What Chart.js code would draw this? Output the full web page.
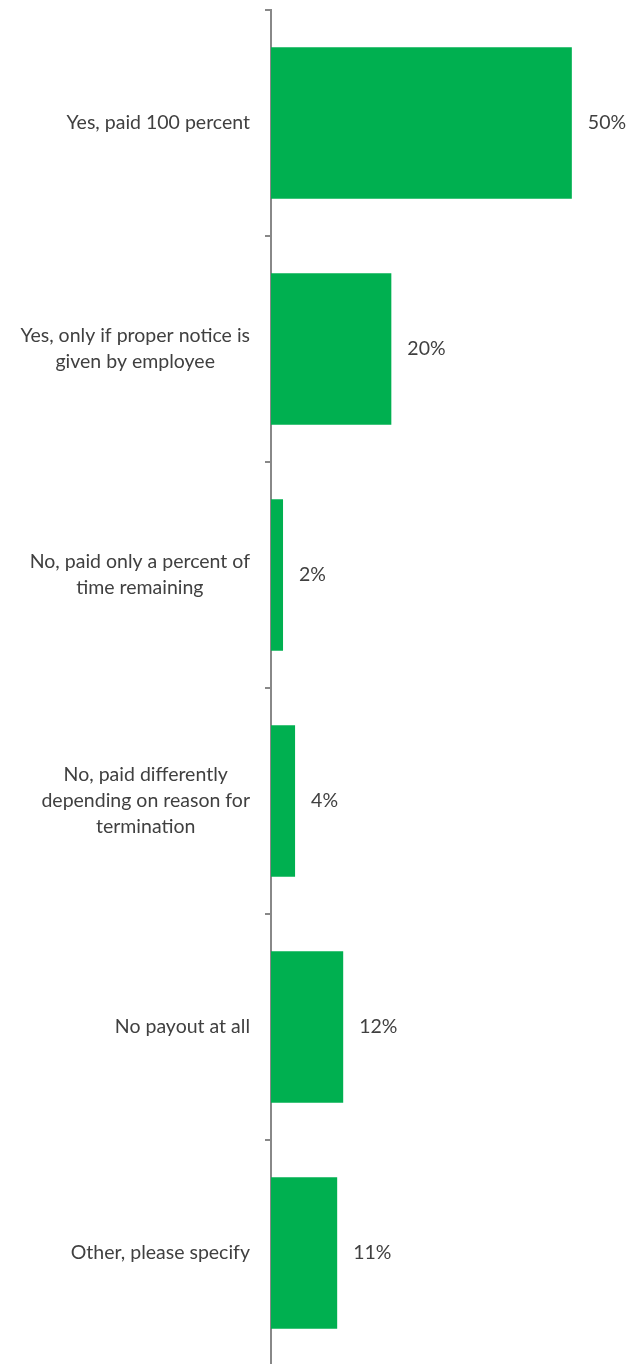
<!DOCTYPE html>
<html>
<head>
<meta charset="utf-8">
<script src="https://cdn.jsdelivr.net/npm/chart.js@4"></script>
<style>
  html, body { margin: 0; padding: 0; background: #ffffff; overflow: hidden; }
  #wrap { width: 639px; height: 1366px; position: relative; }
</style>
</head>
<body>
<div id="wrap"><canvas id="chart"></canvas></div>
<script>
// Survey answers (one entry per line of the label) and their shares in percent
const categories = [
  ["Yes, paid 100 percent"],
  ["Yes, only if proper notice is", "given by employee"],
  ["No, paid only a percent of", "time remaining"],
  ["No, paid differently", "depending on reason for", "termination"],
  ["No payout at all"],
  ["Other, please specify"]
];
const shares = [50, 20, 2, 4, 12, 11];

const FONT = "Lato, 'Open Sans', sans-serif";
const TEXT = "#404040";
const LINE_H = 26;
const FONT_PX = 19.5;

// Category names, centred line by line, right-aligned as a block next to the axis
const categoryLabels = {
  id: "categoryLabels",
  afterDraw(chart) {
    const ctx = chart.ctx;
    const y = chart.scales.y;
    const right = y.right - 21;
    ctx.save();
    ctx.font = FONT_PX + "px " + FONT;
    ctx.fillStyle = TEXT;
    ctx.textAlign = "center";
    ctx.textBaseline = "middle";
    chart.data.labels.forEach((lines, i) => {
      const cy = y.getPixelForValue(i);
      const w = Math.max(...lines.map(l => ctx.measureText(l).width));
      const cx = right - w / 2;
      const top = cy - (lines.length - 1) * LINE_H / 2;
      lines.forEach((l, k) => ctx.fillText(l, cx, top + k * LINE_H));
    });
    ctx.restore();
  }
};

// Percent value printed just past the end of each bar
const valueLabels = {
  id: "valueLabels",
  afterDatasetsDraw(chart) {
    const ctx = chart.ctx;
    const meta = chart.getDatasetMeta(0);
    ctx.save();
    ctx.font = FONT_PX + "px " + FONT;
    ctx.fillStyle = TEXT;
    ctx.textAlign = "left";
    ctx.textBaseline = "middle";
    meta.data.forEach((bar, i) => {
      ctx.fillText(chart.data.datasets[0].data[i] + "%", bar.x + 16, bar.y);
    });
    ctx.restore();
  }
};

new Chart(document.getElementById("chart"), {
  type: "bar",
  data: {
    labels: categories,
    datasets: [{
      data: shares,
      backgroundColor: "#00b050",
      borderWidth: 0,
      barPercentage: 0.67,
      categoryPercentage: 1
    }]
  },
  options: {
    indexAxis: "y",
    responsive: true,
    maintainAspectRatio: false,
    animation: false,
    layout: { padding: { top: 10, right: 7, bottom: 0, left: 0 } },
    plugins: { legend: { display: false }, tooltip: { enabled: false } },
    scales: {
      x: {
        display: false,
        min: 0,
        max: 60
      },
      y: {
        offset: true,
        afterFit(scale) { scale.width = 271; },
        border: { display: true, color: "#888888", width: 2 },
        grid: {
          offset: true,
          drawOnChartArea: false,
          drawTicks: true,
          tickLength: 6,
          color: "#888888",
          lineWidth: 2
        },
        ticks: { display: false }
      }
    }
  },
  plugins: [categoryLabels, valueLabels]
});
</script>
</body>
</html>
